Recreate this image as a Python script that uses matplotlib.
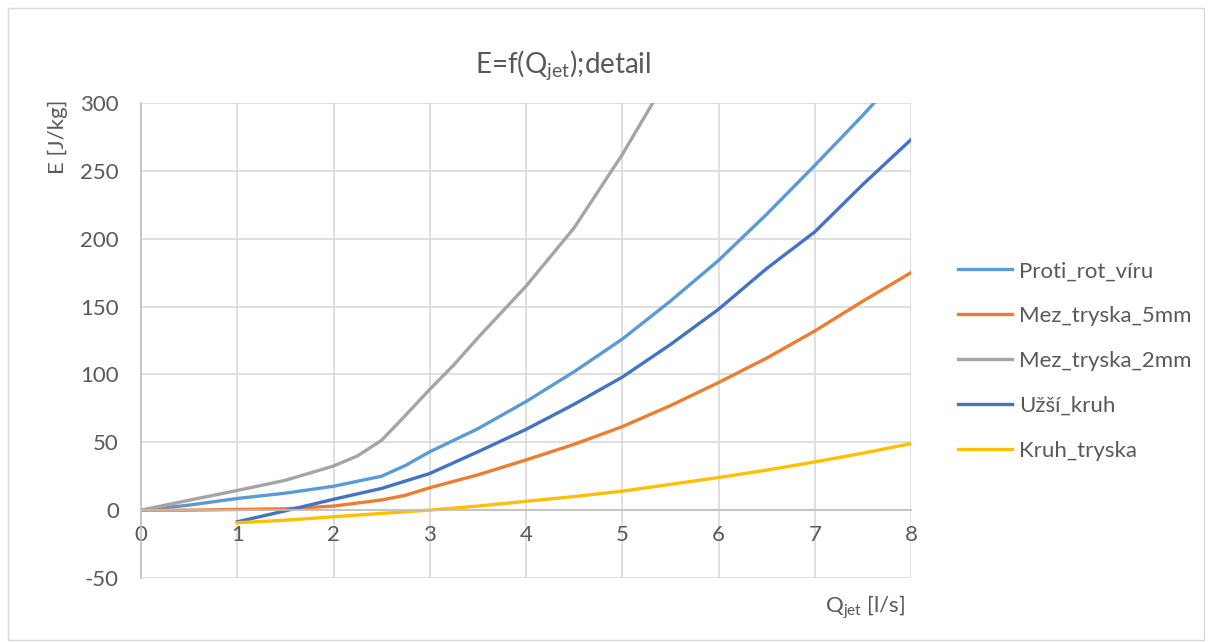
import matplotlib
matplotlib.use("Agg")
import matplotlib.pyplot as plt
from matplotlib.patches import Rectangle

plt.rcParams['font.family'] = ['Lato', 'DejaVu Sans']
plt.rcParams['mathtext.default'] = 'regular'
plt.rcParams['axes.unicode_minus'] = False

# values
q_a = [0, 0.5, 1, 1.5, 2, 2.5, 2.75, 3, 3.5, 4, 4.5, 5, 5.5, 6, 6.5, 7, 7.5, 8]
q_b = [1, 1.5, 2, 2.5, 3, 3.5, 4, 4.5, 5, 5.5, 6, 6.5, 7, 7.5, 8]
q_gray = [0, 0.5, 1, 1.5, 2, 2.25, 2.5, 2.75, 3, 3.25, 3.5, 4, 4.5, 5, 5.5]

proti_rot = [0, 3.7, 8.6, 12.5, 17.6, 25, 33, 43, 60, 80, 102, 126, 154, 184, 218, 254, 291, 330]
mez_5mm = [0, 0, 0.5, 1, 3, 7.5, 11, 16.5, 26, 37, 48.5, 61.5, 77, 94, 112, 132, 154, 175]
mez_2mm = [0, 7.3, 14.5, 22, 32.5, 40, 51.5, 70, 89, 107, 127, 165, 208, 262, 322]
uzsi_kruh = [-8.6, -0.5, 8, 16, 27, 43, 59.5, 78, 98, 122, 148, 178, 205, 240, 273]
kruh_tryska = [-9.3, -7.4, -4.9, -2.4, 0, 3, 6.5, 10, 14, 19, 24, 29.5, 35.5, 42, 49]

y_ticks = [-50, 0, 50, 100, 150, 200, 250, 300]
x_ticks = [0, 1, 2, 3, 4, 5, 6, 7, 8]

txt = '#595959'
grid = '#d9d9d9'

fig = plt.figure(figsize=(12.08, 6.42), dpi=100)
fig.patches.append(Rectangle((8 / 1208, 2 / 642), 1196 / 1208, 632 / 642,
                             transform=fig.transFigure, fill=False,
                             edgecolor='#d9d9d9', lw=1))
ax = fig.add_axes([141 / 1208, 1 - 578 / 642, 770 / 1208, 475 / 642])

ax.plot(q_a, proti_rot, color='#5B9BD5', lw=2.4, label='Proti_rot_víru')
ax.plot(q_a, mez_5mm, color='#ED7D31', lw=2.4, label='Mez_tryska_5mm')
ax.plot(q_gray, mez_2mm, color='#A5A5A5', lw=2.4, label='Mez_tryska_2mm')
ax.plot(q_b, uzsi_kruh, color='#4472C4', lw=2.4, label='Užší_kruh')
ax.plot(q_b, kruh_tryska, color='#FFC000', lw=2.4, label='Kruh_tryska')

ax.set_xlim(0, 8)
ax.set_ylim(-50, 300)
ax.set_xticks(x_ticks)
ax.set_yticks(y_ticks)
ax.grid(True, color=grid, lw=1.2)
ax.set_axisbelow(True)

for s in ['top', 'right']:
    ax.spines[s].set_visible(False)
ax.spines['left'].set_color('#bfbfbf')
ax.spines['bottom'].set_color('#bfbfbf')
ax.spines['bottom'].set_position(('data', 0))
ax.spines['left'].set_linewidth(1.2)
ax.spines['bottom'].set_linewidth(1.2)

ax.tick_params(axis='both', length=0, labelsize=16, labelcolor=txt)
ax.tick_params(axis='y', pad=16)
ax.tick_params(axis='x', pad=11)

fig.text(563 / 1208, 1 - 65 / 642, r'E=f(Q$_{jet}$);detail', ha='center',
         va='center', fontsize=20, color=txt)
fig.text(58 / 1208, 1 - 137 / 642, 'E [J/kg]', rotation=90, ha='center',
         va='center', fontsize=16, color=txt)
fig.text(865 / 1208, 1 - 607 / 642, r'Q$_{jet}$ [l/s]', ha='center',
         va='center', fontsize=16, color=txt)

leg = ax.legend(loc='center left', bbox_to_anchor=(938 / 1208, 1 - 361 / 642),
                bbox_transform=fig.transFigure, frameon=False, fontsize=16,
                handlelength=2.45, handletextpad=0.3, labelspacing=1.12)
for t in leg.get_texts():
    t.set_color(txt)

fig.savefig('out.png', dpi=100)
